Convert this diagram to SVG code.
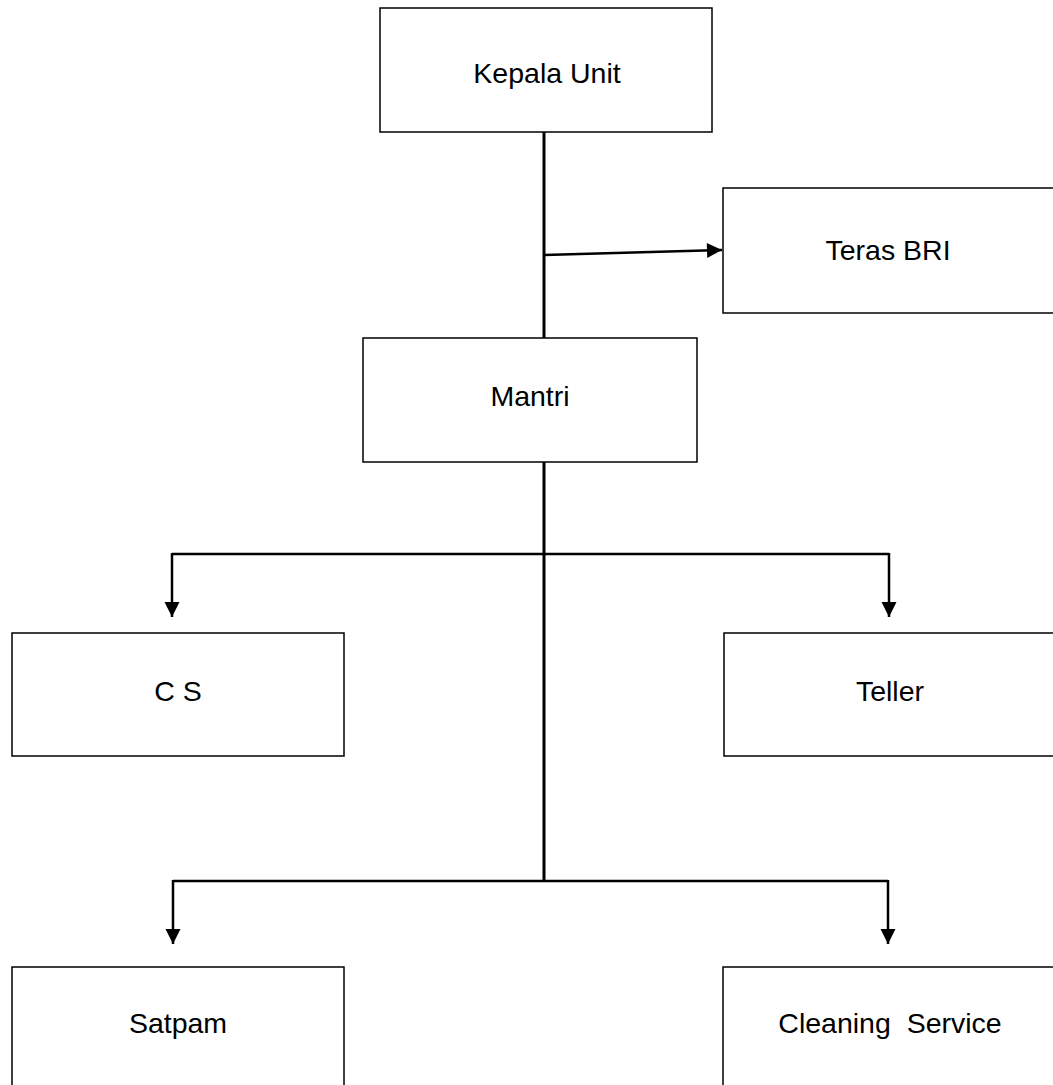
<svg xmlns="http://www.w3.org/2000/svg" width="1053" height="1085" viewBox="0 0 1053 1085">
  <style>
    .box { fill: #ffffff; stroke: #000000; stroke-width: 1.5; }
    .lbl { font-family: "Liberation Sans", Arial, sans-serif; font-size: 28.5px; fill: #000000; text-anchor: middle; white-space: pre; }
    .conn { fill: none; stroke: #000000; stroke-width: 2.5; }
    .trunk { fill: none; stroke: #000000; stroke-width: 3; }
  </style>
  <defs>
    <marker id="arrow" markerUnits="userSpaceOnUse" markerWidth="18" markerHeight="18" viewBox="0 0 18 18" refX="16" refY="9" orient="auto">
      <path d="M1,1.5 L16,9 L1,16.5 Z" fill="#000000"/>
    </marker>
  </defs>
  <rect width="1053" height="1085" fill="#ffffff"/>
  <g id="connectors">
    <line class="trunk" x1="544" y1="132" x2="544" y2="338"/>
    <line class="conn" x1="544" y1="255" x2="722" y2="250" marker-end="url(#arrow)"/>
    <line class="trunk" x1="544" y1="462" x2="544" y2="882"/>
    <line class="conn" x1="172" y1="554" x2="889" y2="554"/>
    <line class="conn" x1="172" y1="553" x2="172" y2="617" marker-end="url(#arrow)"/>
    <line class="conn" x1="889" y1="553" x2="889" y2="617" marker-end="url(#arrow)"/>
    <line class="conn" x1="173" y1="881" x2="888" y2="881"/>
    <line class="conn" x1="173" y1="880" x2="173" y2="944" marker-end="url(#arrow)"/>
    <line class="conn" x1="888" y1="880" x2="888" y2="944" marker-end="url(#arrow)"/>
  </g>
  <g id="node-kepala-unit">
    <rect class="box" x="380" y="8" width="332" height="124"/>
    <text class="lbl" x="547" y="83">Kepala Unit</text>
  </g>
  <g id="node-teras-bri">
    <rect class="box" x="723" y="188" width="335" height="125"/>
    <text class="lbl" x="888" y="260">Teras BRI</text>
  </g>
  <g id="node-mantri">
    <rect class="box" x="363" y="338" width="334" height="124"/>
    <text class="lbl" x="530" y="406">Mantri</text>
  </g>
  <g id="node-cs">
    <rect class="box" x="12" y="633" width="332" height="123"/>
    <text class="lbl" x="178" y="701">C S</text>
  </g>
  <g id="node-teller">
    <rect class="box" x="724" y="633" width="334" height="123"/>
    <text class="lbl" x="890" y="701">Teller</text>
  </g>
  <g id="node-satpam">
    <rect class="box" x="12" y="967" width="332" height="130"/>
    <text class="lbl" x="178" y="1033">Satpam</text>
  </g>
  <g id="node-cleaning-service">
    <rect class="box" x="723" y="967" width="335" height="130"/>
    <text class="lbl" x="890" y="1033">Cleaning  Service</text>
  </g>
</svg>
